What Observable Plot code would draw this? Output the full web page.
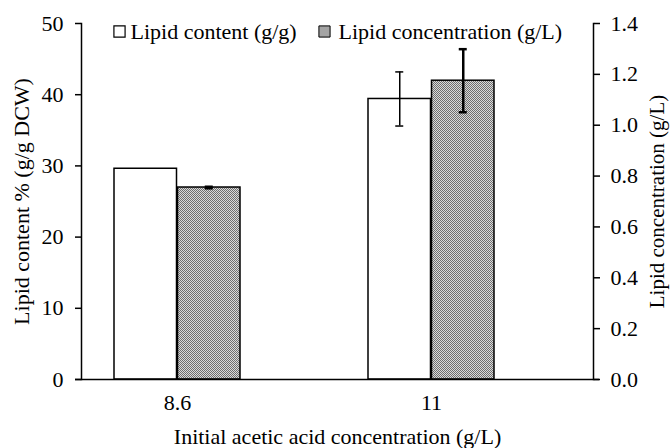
<!DOCTYPE html>
<html><head><meta charset="utf-8">
<script src="https://cdn.jsdelivr.net/npm/d3@7"></script>
<script src="https://cdn.jsdelivr.net/npm/@observablehq/plot@0.6"></script>
<style>body{margin:0;background:#fff}</style>
</head><body><div id="chart"></div>
<script>
const categories = ["8.6", "11"];
const lipidContent = [29.6, 39.4];
const lipidContentErr = [0, 3.8];
const lipidConc = [0.755, 1.175];
const lipidConcErr = [0.003, 0.124];
const leftTicks = [0, 10, 20, 30, 40, 50];
const rightTicks = [0, 0.2, 0.4, 0.6, 0.8, 1.0, 1.2, 1.4];
const seriesNames = ["Lipid content (g/g)", "Lipid concentration (g/L)"];
const leftTitle = "Lipid content % (g/g DCW)";
const rightTitle = "Lipid concentration (g/L)";
const xTitle = "Initial acetic acid concentration (g/L)";
const leftMax = 50, rightMax = 1.4;
const k = leftMax / rightMax;

const contentData = categories.map((c, i) => ({cat: c, v: lipidContent[i], lo: lipidContent[i] - lipidContentErr[i], hi: lipidContent[i] + lipidContentErr[i], e: lipidContentErr[i]}));
const concData = categories.map((c, i) => ({cat: c, v: lipidConc[i] * k, lo: (lipidConc[i] - lipidConcErr[i]) * k, hi: (lipidConc[i] + lipidConcErr[i]) * k, e: lipidConcErr[i]}));

const half = 63.5;     // half of group width
const off = half / 2;  // bar centre offset
const capHalf = 4.5;
const FS = 22;

const defs = () => {
  const ns = "http://www.w3.org/2000/svg";
  const d = document.createElementNS(ns, "defs");
  d.innerHTML = `<pattern id="hatch" width="2" height="2" patternUnits="userSpaceOnUse">
    <rect width="2" height="2" fill="#dadada"/>
    <rect width="1" height="1" fill="#6e6e6e"/>
    <rect x="1" y="1" width="1" height="1" fill="#6e6e6e"/>
  </pattern>`;
  return d;
};

const font = "'Liberation Serif', 'Times New Roman', serif";

const chart = Plot.plot({
  width: 670, height: 448,
  marginLeft: 81, marginRight: 77, marginTop: 23, marginBottom: 69,
  style: {fontFamily: font, fontSize: FS + "px", color: "#000", background: "#fff", overflow: "visible"},
  x: {domain: categories, paddingInner: 0.502, paddingOuter: 0.255, align: 0.25, axis: null},
  y: {domain: [0, leftMax], axis: null},
  marks: [
    defs,
    Plot.barY(contentData, {x: "cat", y: "v", fill: "#fff", stroke: "#000", strokeWidth: 1.5, insetRight: half}),
    Plot.barY(concData, {x: "cat", y: "v", fill: "url(#hatch)", stroke: "#000", strokeWidth: 1.5, insetLeft: half}),
    Plot.ruleX(contentData.filter(d => d.e > 0), {x: "cat", y1: "lo", y2: "hi", dx: -off, stroke: "#000", strokeWidth: 1.5}),
    Plot.tickY(contentData.filter(d => d.e > 0), {x: "cat", y: "lo", insetLeft: off - capHalf, insetRight: half + off - capHalf, stroke: "#000", strokeWidth: 1.5}),
    Plot.tickY(contentData.filter(d => d.e > 0), {x: "cat", y: "hi", insetLeft: off - capHalf, insetRight: half + off - capHalf, stroke: "#000", strokeWidth: 1.5}),
    Plot.ruleX(concData, {x: "cat", y1: "lo", y2: "hi", dx: off, stroke: "#000", strokeWidth: 2.5}),
    Plot.tickY(concData, {x: "cat", y: "lo", insetLeft: half + off - capHalf, insetRight: off - capHalf, stroke: "#000", strokeWidth: 2.5}),
    Plot.tickY(concData, {x: "cat", y: "hi", insetLeft: half + off - capHalf, insetRight: off - capHalf, stroke: "#000", strokeWidth: 2.5}),
    Plot.frame({anchor: "left", stroke: "#000", strokeWidth: 1.5}),
    Plot.frame({anchor: "right", stroke: "#000", strokeWidth: 1.5}),
    Plot.ruleY([0], {stroke: "#000", strokeWidth: 1.5, insetLeft: -6, insetRight: -6}),
    Plot.axisY(leftTicks, {anchor: "left", tickSize: 6, tickPadding: 12, label: null, strokeWidth: 1.5, fontSize: FS}),
    Plot.axisY(rightTicks.map(v => v * k), {anchor: "right", tickSize: 6, tickPadding: 11, label: null, strokeWidth: 1.5, fontSize: FS,
      tickFormat: v => (v / k).toFixed(1)}),
    Plot.axisX(categories, {anchor: "bottom", tickSize: 0, tickPadding: 15, label: null, fontSize: FS}),
    Plot.text([leftTitle], {frameAnchor: "left", rotate: -90, dx: -60, textAnchor: "middle", lineAnchor: "middle", fontSize: FS}),
    Plot.text([rightTitle], {frameAnchor: "right", rotate: -90, dx: 64, textAnchor: "middle", lineAnchor: "middle", fontSize: 21}),
    Plot.text([xTitle], {frameAnchor: "bottom", dy: 57, lineAnchor: "middle", fontSize: FS}),
    Plot.dot([seriesNames[0]], {frameAnchor: "top-left", dx: 38, dy: 8, symbol: "square", r: 6.3, fill: "#fff", stroke: "#000", strokeWidth: 1.2}),
    Plot.text([seriesNames[0]], {frameAnchor: "top-left", dx: 49, dy: 8, textAnchor: "start", lineAnchor: "middle", fontSize: FS}),
    Plot.dot([seriesNames[1]], {frameAnchor: "top-left", dx: 243, dy: 8, symbol: "square", r: 6.3, fill: "url(#hatch)", stroke: "#000", strokeWidth: 1}),
    Plot.text([seriesNames[1]], {frameAnchor: "top-left", dx: 257, dy: 8, textAnchor: "start", lineAnchor: "middle", fontSize: FS})
  ]
});
document.getElementById("chart").appendChild(chart);
</script>
</body></html>
